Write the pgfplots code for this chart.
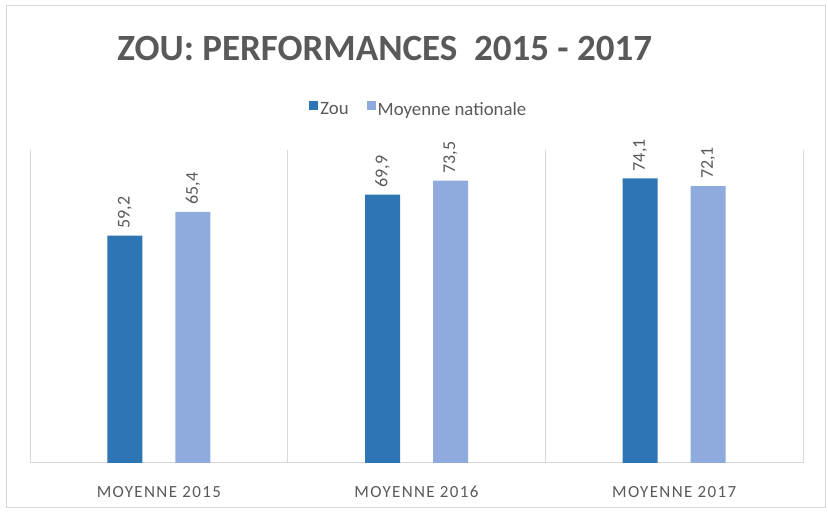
\documentclass[border=0pt]{standalone}
\usepackage{pgfplots}
\pgfplotsset{compat=1.18}
\usepackage{fontspec}
\setmainfont{Carlito}
\definecolor{zou}{HTML}{2E75B6}
\definecolor{nat}{HTML}{8FAADC}
\definecolor{txt}{HTML}{595959}
\definecolor{gridc}{HTML}{D9D9D9}
\begin{document}
\begin{tikzpicture}[x=1pt,y=1pt]
\path[use as bounding box] (0,0) rectangle (828,518);
\draw[gridc, line width=1pt] (6,10) rectangle (825,512);
\begin{axis}[
  at={(30pt,55pt)}, anchor=south west,
  scale only axis, width=773pt, height=313pt,
  xmin=-0.5, xmax=2.5, ymin=0, ymax=81.5,
  ybar, bar width=35pt,
  hide y axis,
  axis x line*=bottom,
  x axis line style={gridc, line width=1pt, -},
  xtick={0,1,2},
  xticklabels={MOYENNE 2015, MOYENNE 2016, MOYENNE 2017},
  major tick length=0pt,
  xticklabel style={font=\fontsize{17}{20}\selectfont\addfontfeature{LetterSpace=8}, text=txt, anchor=center, yshift=-29pt},
  extra x ticks={-0.5,0.5,1.5,2.5},
  extra x tick labels={},
  extra x tick style={grid=major, major grid style={gridc, line width=1pt}},
  /pgf/number format/assume math mode=true,
  /pgf/number format/use comma,
  nodes near coords={\pgfmathprintnumber[fixed,fixed zerofill,precision=1]{\pgfplotspointmeta}},
  every node near coord/.append style={rotate=90, anchor=west, inner xsep=7pt, inner ysep=0pt, font=\fontsize{18}{20}\selectfont, text=txt},
  title={ZOU: PERFORMANCES\ \ 2015 - 2017},
  title style={font=\fontsize{37}{40}\selectfont\bfseries, text=txt, at={(0.459,1.306)}, anchor=center},
  legend columns=2,
  legend style={draw=none, fill=none, at={(0.503,1.13)}, anchor=center, font=\fontsize{18.8}{21}\selectfont, text=txt,
    /tikz/every even column/.append style={column sep=16pt}},
  legend image code/.code={\draw[#1,draw=none] (0pt,-1pt) rectangle (9pt,8pt);},
]
\addplot[fill=zou, draw=none, bar shift=-34pt] coordinates {(0,59.2) (1,69.9) (2,74.1)};
\addplot[fill=nat, draw=none, bar shift=34pt] coordinates {(0,65.4) (1,73.5) (2,72.1)};
\legend{Zou, Moyenne nationale}
\end{axis}
\end{tikzpicture}
\end{document}
